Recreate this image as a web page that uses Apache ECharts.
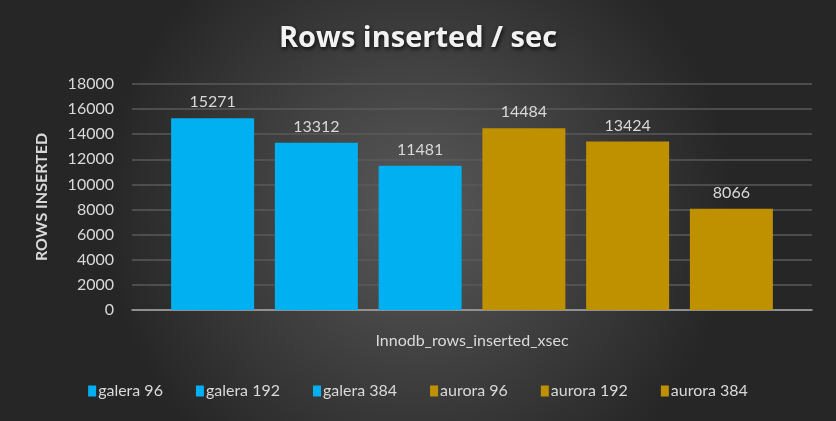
<!DOCTYPE html>
<html>
<head>
<meta charset="utf-8">
<script src="https://cdn.jsdelivr.net/npm/echarts@6/dist/echarts.min.js"></script>
<style>
  html, body { margin: 0; padding: 0; background: #333; }
  #chart { width: 836px; height: 421px; }
</style>
</head>
<body>
<div id="chart"></div>
<script>
var categories = ['Innodb_rows_inserted_xsec'];
var seriesNames = ['galera 96', 'galera 192', 'galera 384', 'aurora 96', 'aurora 192', 'aurora 384'];
var seriesValues = [15271, 13312, 11481, 14484, 13424, 8066];
var seriesColors = ['#00b0f0', '#00b0f0', '#00b0f0', '#bf9000', '#bf9000', '#bf9000'];

var txtColor = '#d9d9d9';
var fontFam = 'Lato, "Open Sans", sans-serif';

var chart = echarts.init(document.getElementById('chart'));

var series = seriesNames.map(function (name, i) {
    return {
        name: name,
        type: 'bar',
        barWidth: 83,
        barGap: '25%',
        itemStyle: { color: seriesColors[i] },
        label: {
            show: true,
            position: 'top',
            distance: 8,
            color: txtColor,
            fontSize: 16,
            fontFamily: fontFam
        },
        data: [seriesValues[i]]
    };
});

chart.setOption({
    backgroundColor: {
        type: 'radial', x: 0.5, y: 0.5, r: 0.75,
        colorStops: [
            { offset: 0, color: '#595959' },
            { offset: 1, color: '#262626' }
        ]
    },
    title: {
        text: 'Rows inserted / sec',
        left: 'center',
        top: 19,
        textStyle: {
            color: '#f2f2f2',
            fontSize: 29,
            fontWeight: 'bold',
            fontFamily: '"Open Sans", Lato, sans-serif',
            textShadowColor: 'rgba(0,0,0,0.8)',
            textShadowBlur: 4,
            textShadowOffsetX: 1,
            textShadowOffsetY: 2
        }
    },
    legend: {
        data: seriesNames,
        bottom: 17,
        left: 'center',
        itemWidth: 8,
        itemHeight: 11,
        itemGap: 33,
        icon: 'rect',
        textStyle: { color: txtColor, fontSize: 16, fontFamily: fontFam, padding: [0, 0, 0, -3] }
    },
    grid: { left: 132, right: 24, top: 84, bottom: 111 },
    xAxis: {
        type: 'category',
        data: categories,
        axisLine: { lineStyle: { color: '#a6a6a6', width: 1.5 } },
        axisTick: { show: false },
        axisLabel: { color: txtColor, fontSize: 16, fontFamily: fontFam, margin: 23 }
    },
    yAxis: {
        type: 'value',
        min: 0,
        max: 18000,
        interval: 2000,
        name: 'ROWS INSERTED',
        nameLocation: 'middle',
        nameGap: 82,
        nameTextStyle: { color: txtColor, fontSize: 16, fontWeight: 'bold', fontFamily: fontFam },
        axisLine: { show: false },
        axisTick: { show: false },
        axisLabel: {
            color: txtColor, fontSize: 16, fontFamily: fontFam, margin: 18,
            formatter: function (v) { return String(v); }
        },
        splitLine: { lineStyle: { color: '#5a5a5a', width: 1.5 } }
    },
    series: series
});
</script>
</body>
</html>
